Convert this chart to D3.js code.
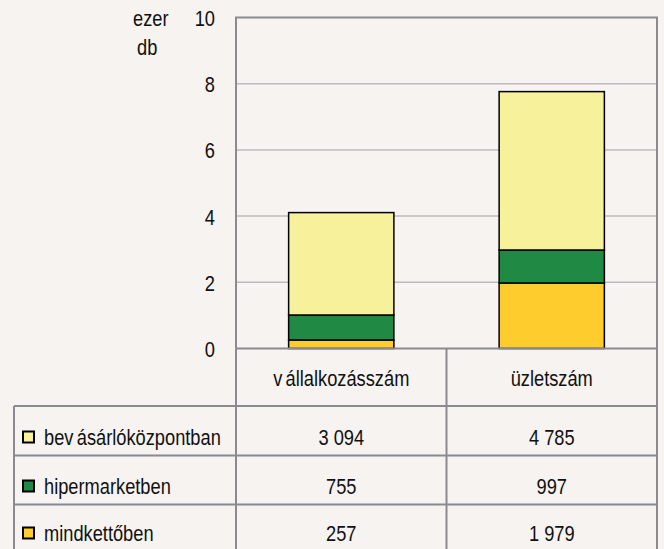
<!DOCTYPE html>
<html>
<head>
<meta charset="utf-8">
<script src="https://cdn.jsdelivr.net/npm/d3@7"></script>
<style>
  html, body { margin: 0; padding: 0; background: #f6f3f0; }
  svg { display: block; }
  text { font-family: "Liberation Sans", Arial, sans-serif; font-size: 22px; fill: #111; }
</style>
</head>
<body>
<svg width="664" height="549"></svg>
<script>
// data (db)
const categories = ['vállalkozásszám', 'üzletszám']
const seriesNames = ['mindkettőben', 'hipermarketben', 'bevásárlóközpontban']
const mindketto = [257, 1979]
const hipermarket = [755, 997]
const bevasarlo = [3094, 4785]
const tableLabels = ['3 094', '4 785', '755', '997', '257', '1 979']
const yTicks = [0, 2, 4, 6, 8, 10]

const colors = {
    'bevásárlóközpontban': '#f6f19a',
    'hipermarketben': '#208a45',
    'mindkettőben': '#ffcc2e'
}

const svg = d3.select('svg')
const lineCol = '#8a8a90'
const sx = 0.83   // the original font is a narrow one

// text placed at x,y, squeezed horizontally
const label = (x, y, anchor) => svg.append('text')
    .attr('transform', `translate(${x},${y}) scale(${sx},1)`)
    .attr('text-anchor', anchor || 'start')

const margin = {top: 17.5, left: 236, right: 7}
const plotBottom = 348.5
const width = 664 - margin.left - margin.right

const x = d3.scaleBand().domain(categories).range([0, width]).paddingInner(0.5).paddingOuter(0.25)
const y = d3.scaleLinear().domain([0, 10]).range([plotBottom, margin.top])

const rows = categories.map((c, i) => ({
    cat: c,
    'mindkettőben': mindketto[i] / 1000,
    'hipermarketben': hipermarket[i] / 1000,
    'bevásárlóközpontban': bevasarlo[i] / 1000
}))
const stacked = d3.stack().keys(seriesNames)(rows)

const g = svg.append('g').attr('transform', `translate(${margin.left},0)`)

// gridlines
g.append('g').selectAll('line')
    .data(yTicks.filter(t => t > 0 && t < 10))
    .enter().append('line')
    .attr('x1', 0).attr('x2', width)
    .attr('y1', d => y(d)).attr('y2', d => y(d))
    .attr('stroke', '#bcbcbc').attr('stroke-width', 1.5)

// y axis labels
const yAxis = g.append('g')
    .attr('transform', 'translate(-21,0)')
    .call(d3.axisLeft(y).tickValues(yTicks).tickSize(0).tickPadding(0))
yAxis.select('.domain').remove()
yAxis.attr('font-family', null).attr('font-size', null)
yAxis.selectAll('text')
    .attr('dy', '0.36em')
    .attr('fill', '#111')
    .attr('transform', `scale(${sx},1)`)

// plot border
g.append('path')
    .attr('d', `M0,${plotBottom}V${y(10)}H${width}V${plotBottom}`)
    .attr('fill', 'none').attr('stroke', lineCol).attr('stroke-width', 2)

// bars
g.selectAll('.layer')
    .data(stacked)
    .enter().append('g')
    .attr('class', 'layer')
    .attr('fill', d => colors[d.key])
    .selectAll('rect')
    .data(d => d)
    .enter().append('rect')
    .attr('x', d => x(d.data.cat))
    .attr('y', d => y(d[1]))
    .attr('width', x.bandwidth())
    .attr('height', d => y(d[0]) - y(d[1]))
    .attr('stroke', '#000').attr('stroke-width', 1.5)

// unit label
label(133, 26).text('ezer')
label(137, 55).text('db')

// table
const tableLeft = 14
const tableRight = margin.left + width
const colDiv = margin.left + x.step()
const rowLines = [406, 455.5, 504.5, 560]

const tl = svg.append('g').attr('stroke', lineCol).attr('stroke-width', 2)
tl.append('line').attr('x1', margin.left).attr('x2', tableRight).attr('y1', plotBottom).attr('y2', plotBottom)
rowLines.forEach(r => {
    tl.append('line').attr('x1', tableLeft).attr('x2', tableRight).attr('y1', r).attr('y2', r)
})
tl.append('line').attr('x1', tableLeft).attr('x2', tableLeft).attr('y1', rowLines[0]).attr('y2', 549)
tl.append('line').attr('x1', margin.left).attr('x2', margin.left).attr('y1', plotBottom).attr('y2', 549)
tl.append('line').attr('x1', colDiv).attr('x2', colDiv).attr('y1', plotBottom).attr('y2', 549)
tl.append('line').attr('x1', tableRight).attr('x2', tableRight).attr('y1', margin.top).attr('y2', 549)

// category header
categories.forEach(c => {
    const t = label(margin.left + x(c) + x.bandwidth() / 2, 386, 'middle')
    if (c.startsWith('v')) {
        t.append('tspan').text('v')
        t.append('tspan').attr('dx', 4).text(c.slice(1))
    } else {
        t.text(c)
    }
})

// legend rows
const legendOrder = ['bevásárlóközpontban', 'hipermarketben', 'mindkettőben']
const baselines = [444.5, 493.5, 540.5]
legendOrder.forEach((name, i) => {
    svg.append('rect')
        .attr('x', 23).attr('y', baselines[i] - 13).attr('width', 11).attr('height', 11)
        .attr('fill', colors[name]).attr('stroke', '#000').attr('stroke-width', 2)
    const t = label(44, baselines[i])
    if (name.startsWith('bev')) {
        t.append('tspan').text('bev')
        t.append('tspan').attr('dx', 4).text(name.slice(3))
    } else {
        t.text(name)
    }
    categories.forEach((c, j) => {
        label(margin.left + x(c) + x.bandwidth() / 2, baselines[i], 'middle')
            .text(tableLabels[i * 2 + j])
    })
})
</script>
</body>
</html>
